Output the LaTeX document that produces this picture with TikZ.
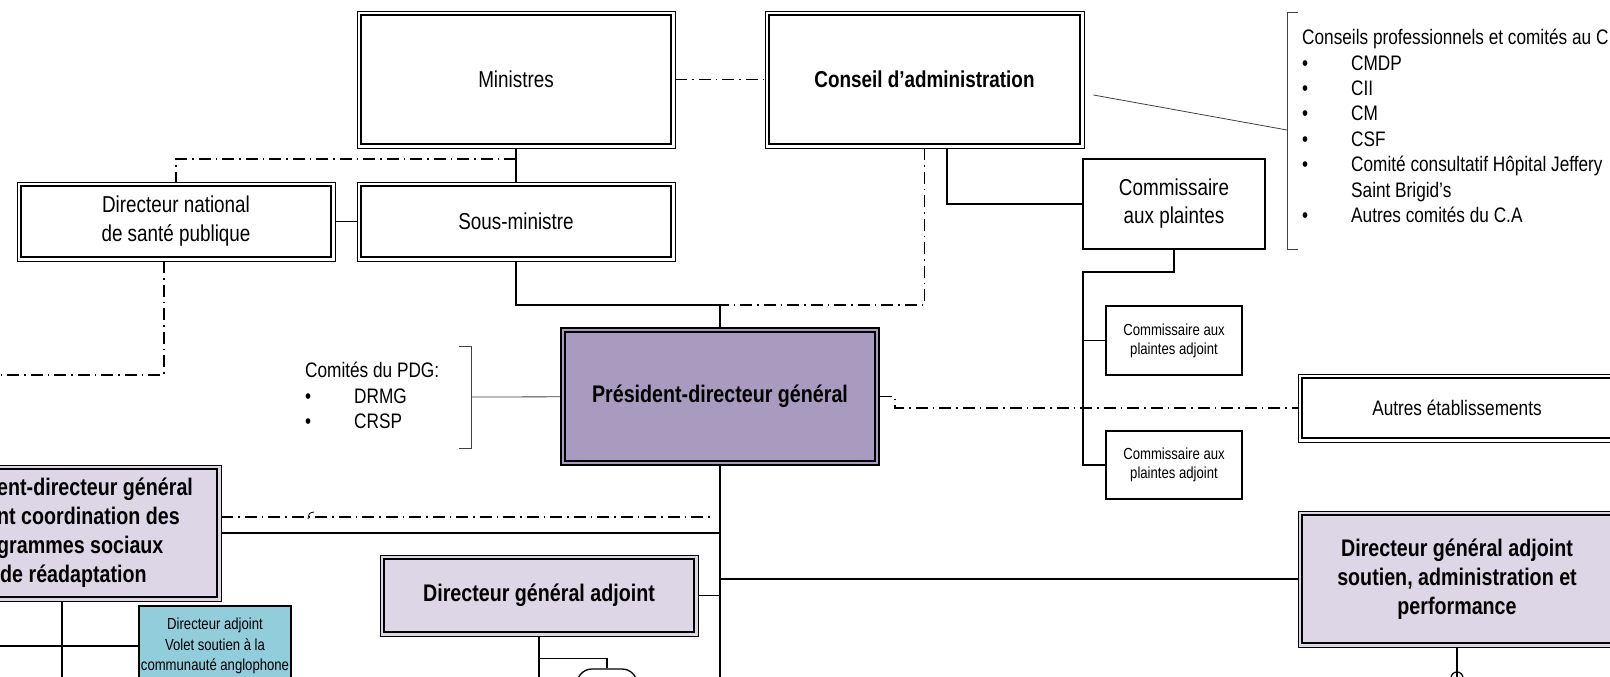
\documentclass[tikz,border=0pt]{standalone}
\usepackage{fontspec}
\setmainfont{Liberation Sans}[FakeStretch=0.82]
\usetikzlibrary{positioning,calc}
\definecolor{pdgfill}{HTML}{A99AC0}
\definecolor{adjfill}{HTML}{DCD6E6}
\definecolor{bleufill}{HTML}{92CDDC}
\newcommand{\puce}{\makebox[49pt][l]{\textbullet}}

\begin{document}
\begin{tikzpicture}[
  x=1pt, y=-1pt,
  boite/.style={draw, line width=0.9pt, fill=white, align=center, inner sep=0pt, minimum width=318pt, font=\fontsize{23}{29}\selectfont},
  adjt/.style={boite, fill=adjfill, font=\bfseries\fontsize{24}{29}\selectfont},
  pdgbox/.style={draw, line width=2.2pt, fill=pdgfill, align=center, inner sep=0pt, minimum width=318pt, minimum height=137pt, font=\bfseries\fontsize{24}{29}\selectfont},
  interieur/.style={line width=1.8pt},
  simple/.style={draw, line width=1.5pt, fill=white, align=center, inner sep=0pt, font=\fontsize{23}{28}\selectfont},
  petit/.style={draw, line width=1.3pt, fill=white, align=center, inner sep=0pt, minimum width=136pt, minimum height=69pt, font=\fontsize{16}{19}\selectfont},
  bleu/.style={draw, line width=1.2pt, fill=bleufill, align=center, inner sep=0pt, minimum width=152pt, minimum height=80pt, font=\fontsize{16}{20.5}\selectfont},
  liste/.style={align=left, inner sep=0pt, font=\fontsize{21}{25.4}\selectfont},
  lien/.style={line width=1.5pt},
  pointille/.style={line width=1.3pt, dash pattern=on 12pt off 5pt on 1.5pt off 5pt},
  fin/.style={line width=0.8pt, draw=black!75}
]
  \useasboundingbox (0,0) rectangle (1610,677);

  % niveau ministere
  \node[boite, minimum height=137pt] (min) at (516,79.5) {Ministres};
  \node[boite, minimum height=137pt, minimum width=319pt] (ca) at (924.5,79.5) {\textbf{Conseil d’administration}};
  \node[boite, minimum height=79pt] (dnsp) at (176,221.5) {Directeur national\\de santé publique};
  \node[boite, minimum height=79pt] (smin) at (516,221.5) {Sous-ministre};
  \node[simple, minimum width=182pt, minimum height=90pt] (cp) at (1174,204) {Commissaire\\aux plaintes};
  \node[petit] (cpa1) at (1174,340.5) {Commissaire aux\\plaintes adjoint};
  \node[petit, minimum height=68pt] (cpa2) at (1174,465) {Commissaire aux\\plaintes adjoint};

  % direction
  \node[pdgbox] (pdg) at (720,396.5) {Président-directeur général};
  \node[boite, minimum height=68pt, font=\fontsize{21}{25}\selectfont] (autres) at (1457,408) {Autres établissements};
  \node[adjt, minimum height=136pt] (pdgac) at (62,533) {};
  \node[align=left, inner sep=0pt, anchor=west, font=\bfseries\fontsize{24}{29}\selectfont] (pdgtxt) at (-3,533) {ent-directeur général\\nt coordination des\\grammes sociaux\\\hspace*{3pt}de réadaptation};
  \node[adjt, minimum height=81pt] (dga) at (539,595.5) {Directeur général adjoint};
  \node[adjt, minimum height=136pt] (dgas) at (1457,579) {Directeur général adjoint\\soutien, administration et\\performance};
  \node[bleu] (dacom) at (215,646) {Directeur adjoint\\Volet soutien à la\\communauté anglophone};
  \node[draw, line width=1.3pt, rounded corners=15pt, minimum width=60pt, minimum height=40pt] (rnd) at (607,689) {};
  \node[draw, circle, line width=1.3pt, inner sep=0pt, minimum size=12pt] (rond) at (1457,678) {};

  % cadres doubles
  \foreach \n in {min,ca,dnsp,smin,autres,pdgac,dga,dgas}
    \draw[interieur] ([shift={(4.5pt,-4.5pt)}]\n.north west) rectangle ([shift={(-4.5pt,4.5pt)}]\n.south east);
  \draw[interieur, line width=2.2pt] ([shift={(5pt,-5pt)}]pdg.north west) rectangle ([shift={(-5pt,5pt)}]pdg.south east);

  % comites
  \node[liste, anchor=north west] (cpdg) at (305,362) {Comités du PDG:\\\puce DRMG\\\puce CRSP};
  \node[liste, anchor=north west] (cca) at (1302,29) {Conseils professionnels et comités au C\\\puce CMDP\\\puce CII\\\puce CM\\\puce CSF\\\puce Comité consultatif Hôpital Jeffery\\\hspace*{49pt}Saint Brigid’s\\\puce Autres comités du C.A};
  \draw[fin] (459,346) -| (471,448) -- (459,448);
  \draw[fin] (1298,12) -| (1287,249) -- (1298,249);
  \coordinate (bk1) at (471,397);
  \coordinate (bk2) at (1287,130);
  \draw[fin] (bk1) -- (pdg);
  \draw[fin] ([shift={(9pt,-15.5pt)}]ca.east) -- (bk2);

  % liens hierarchiques
  \coordinate (j1) at (516,159);
  \coordinate (j2) at (720,305);
  \coordinate (j3) at (1083,272);
  \coordinate (j4) at (-5,375);
  \coordinate (bas) at (720,690);
  \coordinate (gauche) at (-5,646);
  \draw[pointille] (min) -- (ca);
  \draw[lien] (min) -- (smin);
  \draw[pointille] (j1) -| (dnsp.north);
  \draw[lien] (dnsp) -- (smin);
  \draw[pointille] ([xshift=-12pt]dnsp.south) |- (j4);
  \draw[lien] (smin) |- (j2) -- (pdg);
  \draw[pointille] (ca) |- (j2);
  \draw[lien] ([xshift=22.5pt]ca.south) |- (cp);
  \draw[lien] (cp) |- (j3) |- (cpa2);
  \draw[lien] (j3 |- cpa1.west) -- (cpa1);
  \draw[pointille] (pdg.east) -- ++(15,0) |- (autres.west);

  \draw[lien, line width=2.6pt] (pdg) -- (bas);
  \draw[pointille] ([yshift=16pt]pdgac.east) -- ($(pdgac.east -| bas)+(-7,-16)$);
  \draw[lien, line width=0.8pt] (308,519) .. controls (309,513) .. (314,512);
  \draw[lien] (pdgac) -- (pdgac -| bas);
  \draw[lien] (dga) -- (dga -| bas);
  \draw[lien] (dgas -| bas) -- (dgas);
  \draw[lien] (dga) -- (dga |- bas);
  \draw[lien] ([yshift=-22pt]dga.south) -| (rnd);
  \draw[lien, line width=2pt] (pdgac) -- (pdgac |- bas);
  \draw[lien] (gauche) -- (dacom);
  \draw[lien, line width=2pt] (dgas) -- (dgas |- bas);
\end{tikzpicture}
\end{document}
